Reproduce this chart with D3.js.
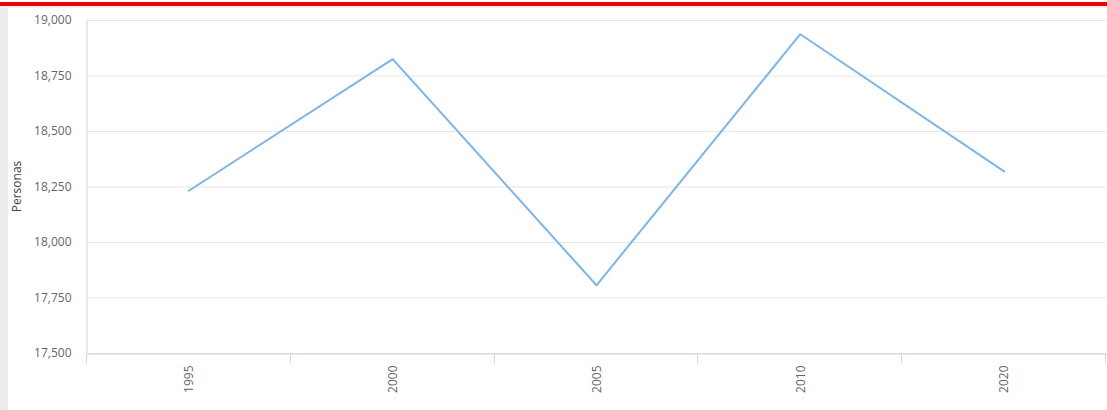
<!DOCTYPE html>
<html>
  <head>
    <title>Personas por año</title>
    <script src="https://cdn.jsdelivr.net/npm/d3@7/dist/d3.min.js"></script>
    <style>
      body { margin: 0; background: #fff; }
      svg text { font-family: "Open Sans", "DejaVu Sans", sans-serif; }
    </style>
  </head>
  <body>
    <svg id="svg" width="1107" height="410" xmlns="http://www.w3.org/2000/svg"></svg>
    <script>
      // Data
      let years = ["1995", "2000", "2005", "2010", "2020"];
      let personas = [18231, 18824, 17805, 18936, 18318];
      let yTicks = [17500, 17750, 18000, 18250, 18500, 18750, 19000];

      let svg = d3.select("svg");
      let margin = { left: 87, right: 1, top: 20, bottom: 57 };
      let width = 1107, height = 410;

      // Page decoration: grey side bar and red top rule
      svg.append("rect").attr("x", 0).attr("y", 6).attr("width", 8).attr("height", height)
        .attr("fill", "#ececec");
      svg.append("rect").attr("x", 0).attr("y", 5).attr("width", width).attr("height", 3)
        .attr("fill", "#f0f0f0");
      svg.append("rect").attr("x", 0).attr("y", 2).attr("width", width).attr("height", 4)
        .attr("fill", "#ee0000");

      let x = d3.scaleBand().domain(years)
        .range([margin.left, width - margin.right]);
      let y = d3.scaleLinear().domain([17500, 19000])
        .range([height - margin.bottom, margin.top]);

      // Gridlines
      svg.append("g").selectAll("line").data(yTicks).join("line")
        .attr("x1", margin.left).attr("x2", width - margin.right)
        .attr("y1", d => y(d) + 0.5).attr("y2", d => y(d) + 0.5)
        .attr("stroke", "#e6e6e6");

      // Y axis
      let yAxis = svg.append("g")
        .attr("transform", `translate(${margin.left - 0.5},0)`)
        .call(d3.axisLeft(y).tickValues(yTicks).tickSize(0).tickPadding(15)
          .tickFormat(d3.format(",")));
      yAxis.select(".domain").attr("stroke", "#ccd6eb");
      yAxis.selectAll("text").attr("fill", "#666").style("font-size", "12px");

      svg.append("text")
        .attr("transform", `translate(21,${(margin.top + height - margin.bottom) / 2}) rotate(-90)`)
        .attr("text-anchor", "middle")
        .attr("fill", "#444")
        .style("font-size", "12px")
        .text("Personas");

      // X axis
      let xAxis = svg.append("g")
        .attr("transform", `translate(0,${height - margin.bottom + 0.5})`)
        .call(d3.axisBottom(x).tickSize(0));
      xAxis.select(".domain").attr("stroke", "#ccd6eb");
      xAxis.selectAll("text")
        .attr("fill", "#666").style("font-size", "12px")
        .attr("text-anchor", "end")
        .attr("transform", "rotate(-90)")
        .attr("x", -12).attr("y", 0).attr("dy", "0.35em");
      // Category boundary ticks
      let bounds = years.map(d => x(d)).concat([x(years[years.length - 1]) + x.bandwidth()]);
      xAxis.selectAll(".bound").data(bounds).join("line")
        .attr("class", "bound")
        .attr("x1", d => Math.round(d) - 0.5).attr("x2", d => Math.round(d) - 0.5)
        .attr("y1", 0).attr("y2", 10)
        .attr("stroke", "#ccd6eb");

      // Line
      let line = d3.line()
        .x((d, i) => x(years[i]) + x.bandwidth() / 2)
        .y(d => y(d));
      svg.append("path")
        .datum(personas)
        .attr("d", line)
        .attr("fill", "none")
        .attr("stroke", "#7cb5ec")
        .attr("stroke-width", 2)
        .attr("stroke-linejoin", "round")
        .attr("stroke-linecap", "round");
    </script>
  </body>
</html>
